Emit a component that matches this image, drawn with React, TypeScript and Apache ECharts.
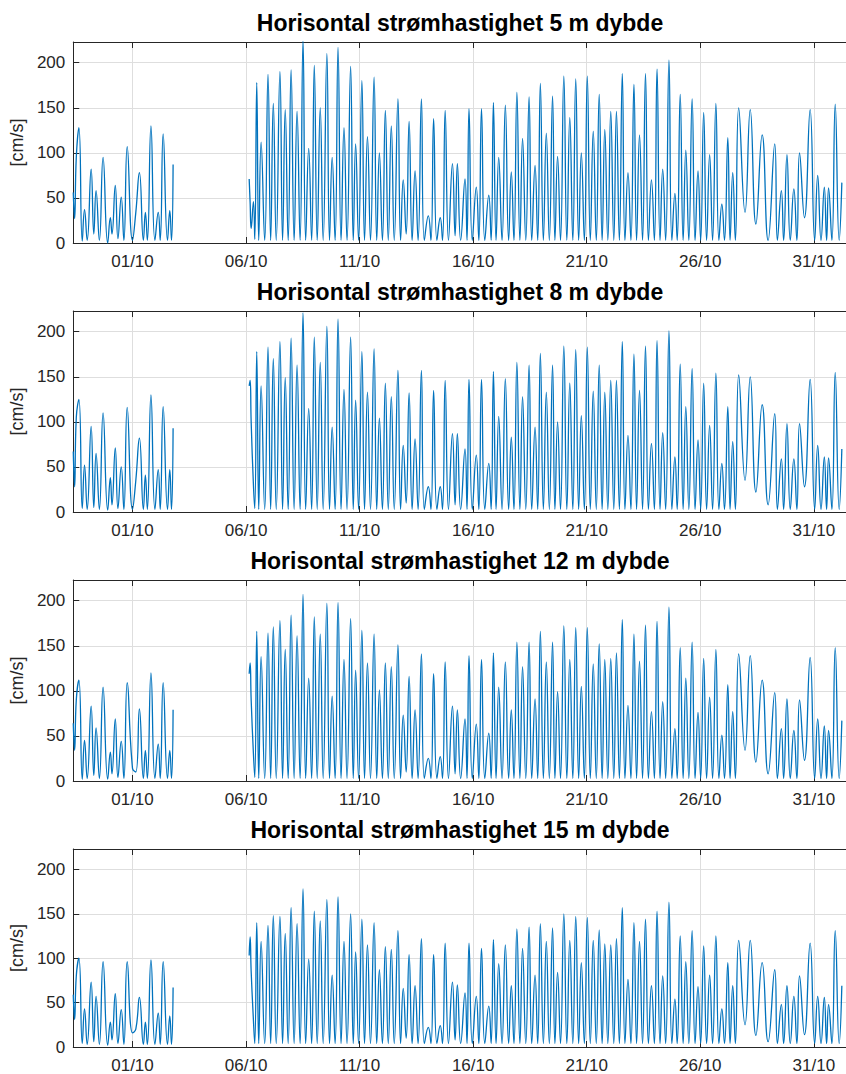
import React, { useEffect, useRef } from "react";
import * as echarts from "echarts";

// Time in hours since 01/10 00:00
const SEG_A_HOURS = [
  -62.6, -61.2, -59.4, -56.6, -53.1, -50.7, -47.9, -43.7, -40.9, -38.5,
  -35.0, -31.1, -26.2, -23.4, -21.7, -18.2, -15.4, -11.9, -9.1, -5.6,
  0.0, 3.5, 7.3, 11.5, 13.6, 15.7, 19.5, 23.7, 27.2, 29.3,
  32.4, 37.0, 39.4, 41.2, 42.9,
];

const SEG_B_HOURS = [
  123.3, 124.3, 125.4, 127.8, 129.2,
  131.3, 133.4, 135.9, 139.7, 143.2, 146.0, 148.8, 151.9,
  155.8, 158.6, 161.4, 164.5, 167.6, 170.8, 173.9, 177.1,
  180.2, 183.0, 186.2, 189.3, 192.1, 195.2, 198.4, 201.5,
  205.4, 208.2, 211.0, 214.1, 217.2, 220.4, 223.5, 226.7,
  230.5, 233.3, 235.8, 238.9, 242.4, 245.2, 248.3, 251.5,
  255.3, 258.1, 260.9, 264.1, 267.2, 270.3, 273.5, 276.6,
  280.5, 283.3, 286.1, 289.2, 292.3, 295.5, 298.6, 301.8,
  305.3, 308.4, 312.6, 315.4, 318.2, 321.7, 325.2, 327.6,
  330.4, 333.9, 338.1, 340.9, 343.3, 346.8, 351.4, 353.5,
  355.6, 359.1, 363.3, 366.0, 368.8, 372.3, 376.5, 379.0,
  381.4, 384.2, 387.0, 390.5, 394.0, 397.5, 400.3, 403.1,
  406.2, 409.4, 412.2, 415.6, 419.1, 421.9, 425.4, 428.2,
  431.0, 434.2, 437.3, 440.5, 443.9, 446.4, 449.2, 452.3,
  455.8, 459.0, 462.1, 465.3, 468.4, 471.5, 474.3, 477.5,
  480.6, 483.8, 486.9, 490.1, 493.2, 496.3, 499.1, 502.3,
  505.4, 508.6, 511.4, 514.5, 517.6, 520.4, 523.6, 526.7,
  529.9, 532.7, 535.8, 539.0, 542.1, 545.2, 548.4, 551.5,
  554.3, 557.5, 560.3, 563.4, 566.9, 570.0, 573.2, 575.6,
  578.8, 581.9, 584.7, 587.9, 591.4, 594.5, 597.6, 600.4,
  603.6, 606.7, 609.9, 613.0, 616.5, 619.7, 622.8, 625.6,
  629.1, 631.5, 634.3, 637.1, 640.6, 647.3, 652.8, 658.8,
  665.4, 671.7, 678.7, 681.5, 685.7, 688.1, 691.6, 695.1,
  698.9, 702.1, 704.9, 710.1, 716.1, 720.9, 724.1, 727.6,
  731.1, 733.5, 735.6, 739.1, 742.6, 746.8, 749.6,
];

// Current speed [cm/s]
const SPEED_5M_A = [56, 27, 95, 128, 2, 37, 3, 82, 10, 58, 3, 95, 0, 28, 10, 64, 5, 51, 3, 107, 3, 34, 78, 3, 34, 3, 130, 3, 34, 3, 121, 3, 36, 3, 87];
const SPEED_5M_B = [
  71, 45, 16, 46, 4,
  178, 3, 112, 3, 187, 3, 155, 3, 190, 3, 148, 3, 192, 3, 146, 3,
  225, 3, 105, 3, 197, 3, 150, 3, 210, 3, 95, 3, 217, 3, 128, 3,
  196, 3, 110, 3, 180, 3, 118, 3, 184, 3, 100, 3, 147, 3, 130, 3,
  160, 3, 70, 10, 135, 3, 80, 3, 160, 3, 30, 3, 138, 3, 28, 3,
  147, 3, 88, 8, 88, 3, 71, 3, 149, 3, 62, 3, 149, 3, 53, 3,
  156, 3, 95, 3, 153, 3, 79, 3, 167, 3, 116, 3, 162, 3, 86, 3,
  177, 3, 122, 3, 163, 3, 96, 3, 185, 3, 139, 3, 182, 3, 100, 3,
  185, 3, 124, 3, 165, 3, 126, 3, 146, 3, 146, 3, 188, 3, 78, 3,
  176, 3, 120, 3, 188, 3, 70, 3, 193, 3, 82, 3, 203, 3, 55, 3,
  165, 3, 103, 3, 160, 3, 80, 3, 145, 3, 98, 3, 155, 3, 43, 3,
  117, 3, 78, 3, 150, 34, 148, 21, 120, 3, 110, 3, 58, 3, 98, 3,
  60, 3, 100, 28, 148, 3, 75, 3, 62, 3, 61, 3, 154, 3, 67,
];

const SPEED_8M_A = [67, 28, 105, 125, 4, 52, 3, 95, 5, 65, 3, 110, 2, 38, 8, 71, 4, 50, 3, 116, 3, 35, 82, 3, 41, 3, 130, 3, 47, 3, 117, 3, 47, 3, 93];
const SPEED_8M_B = [
  140, 146, 100, 30, 4,
  178, 3, 140, 3, 183, 3, 170, 3, 189, 3, 149, 3, 193, 3, 163, 3,
  221, 3, 115, 3, 194, 3, 166, 3, 206, 3, 94, 3, 214, 3, 136, 3,
  194, 3, 124, 3, 178, 3, 133, 3, 181, 3, 104, 3, 143, 3, 128, 3,
  157, 3, 74, 10, 132, 3, 81, 3, 157, 3, 28, 3, 135, 3, 28, 3,
  146, 3, 87, 8, 87, 3, 70, 3, 147, 3, 63, 3, 147, 3, 54, 3,
  156, 3, 106, 3, 148, 3, 83, 3, 166, 3, 128, 3, 163, 3, 94, 3,
  176, 3, 133, 3, 163, 3, 100, 3, 184, 3, 143, 3, 180, 3, 107, 3,
  183, 3, 134, 3, 163, 3, 133, 3, 146, 3, 146, 3, 189, 3, 85, 3,
  175, 3, 135, 3, 184, 3, 76, 3, 190, 3, 88, 3, 201, 3, 61, 3,
  164, 3, 117, 3, 159, 3, 80, 3, 143, 3, 96, 3, 154, 3, 54, 3,
  117, 3, 78, 3, 152, 35, 150, 22, 119, 8, 109, 3, 59, 3, 98, 3,
  59, 3, 98, 28, 147, 3, 74, 3, 61, 3, 60, 3, 155, 3, 70,
];

const SPEED_12M_A = [64, 34, 90, 112, 2, 45, 3, 83, 6, 59, 3, 104, 2, 32, 8, 69, 4, 44, 3, 109, 14, 10, 80, 3, 34, 3, 120, 3, 41, 3, 109, 3, 34, 3, 79];
const SPEED_12M_B = [
  119, 131, 90, 30, 4,
  166, 3, 138, 3, 164, 3, 171, 3, 178, 3, 146, 3, 184, 3, 161, 3,
  207, 3, 114, 3, 182, 3, 163, 3, 197, 3, 94, 3, 198, 3, 135, 3,
  180, 3, 123, 3, 167, 3, 131, 3, 163, 3, 101, 3, 131, 3, 127, 3,
  151, 3, 73, 10, 116, 3, 79, 3, 141, 3, 25, 3, 119, 3, 27, 3,
  132, 3, 83, 8, 79, 3, 69, 3, 139, 3, 63, 3, 135, 3, 53, 3,
  142, 3, 104, 3, 132, 3, 79, 3, 154, 3, 127, 3, 154, 3, 91, 3,
  166, 3, 132, 3, 154, 3, 99, 3, 172, 3, 135, 3, 170, 3, 105, 3,
  170, 3, 130, 3, 152, 3, 135, 3, 136, 3, 142, 3, 179, 3, 84, 3,
  163, 3, 133, 3, 173, 3, 77, 3, 177, 3, 88, 3, 193, 3, 58, 3,
  148, 3, 114, 3, 154, 3, 76, 3, 136, 3, 93, 3, 146, 3, 51, 3,
  107, 3, 77, 3, 141, 34, 139, 21, 112, 8, 98, 3, 58, 3, 91, 3,
  56, 3, 90, 23, 137, 3, 69, 3, 61, 3, 56, 3, 148, 3, 67,
];

const SPEED_15M_A = [59, 31, 80, 100, 4, 43, 3, 73, 6, 57, 3, 96, 2, 28, 8, 60, 4, 42, 3, 96, 16, 20, 56, 3, 28, 3, 98, 3, 38, 3, 96, 3, 35, 3, 67];
const SPEED_15M_B = [
  103, 124, 85, 30, 4,
  140, 4, 119, 4, 137, 4, 148, 4, 147, 4, 128, 4, 157, 4, 139, 4,
  178, 4, 99, 4, 153, 4, 142, 4, 166, 4, 81, 4, 169, 4, 119, 4,
  150, 4, 107, 4, 144, 4, 115, 4, 140, 4, 87, 4, 113, 4, 110, 4,
  131, 4, 66, 10, 104, 4, 69, 4, 122, 4, 22, 4, 104, 4, 24, 4,
  117, 4, 73, 8, 70, 4, 61, 4, 117, 4, 57, 4, 111, 4, 46, 4,
  121, 4, 94, 4, 115, 4, 69, 4, 133, 4, 111, 4, 135, 4, 81, 4,
  139, 4, 119, 4, 134, 4, 84, 4, 150, 4, 120, 4, 147, 4, 95, 4,
  146, 4, 120, 4, 132, 4, 116, 4, 115, 4, 122, 4, 157, 4, 76, 4,
  140, 4, 119, 4, 144, 4, 69, 4, 153, 4, 80, 4, 163, 4, 54, 4,
  125, 4, 96, 4, 131, 4, 68, 4, 114, 4, 81, 4, 125, 4, 43, 4,
  95, 4, 69, 4, 120, 25, 120, 13, 95, 6, 87, 4, 48, 4, 69, 4,
  57, 4, 80, 14, 117, 4, 57, 4, 56, 4, 48, 4, 131, 4, 69,
];

const DEPTHS = ["5", "8", "12", "15"];
const PANELS_A = [SPEED_5M_A, SPEED_8M_A, SPEED_12M_A, SPEED_15M_A];
const PANELS_B = [SPEED_5M_B, SPEED_8M_B, SPEED_12M_B, SPEED_15M_B];
const X_TICK_HOURS = [0, 120, 240, 360, 480, 600, 720];
const X_TICK_LABELS = ["01/10", "06/10", "11/10", "16/10", "21/10", "26/10", "31/10"];
const Y_TICKS = [0, 50, 100, 150, 200];
const X_MIN = -62.6;
const X_MAX = 754;
const Y_MAX = 223;
const GAP_HOUR = 83;

const PANEL_TOPS = [42, 311, 580, 849];
const PANEL_H = 201;
const GRID_LEFT = 71;
const FONT = '"Liberation Sans", Arial, Helvetica, sans-serif';
const AXIS_COLOR = "#262626";
const LINE_COLOR = "#0072BD";

function buildOption() {
  const grid: any[] = [];
  const xAxis: any[] = [];
  const yAxis: any[] = [];
  const series: any[] = [];
  const graphic: any[] = [];

  DEPTHS.forEach((depth, i) => {
    grid.push({ left: GRID_LEFT, right: -4, top: PANEL_TOPS[i], height: PANEL_H });
    const axisLine = { show: true, onZero: false, lineStyle: { color: AXIS_COLOR, width: 1 } };
    const tick = { show: true, inside: true, length: 6, customValues: X_TICK_HOURS, lineStyle: { color: AXIS_COLOR, width: 1 } };
    xAxis.push({
      gridIndex: i,
      type: "value",
      position: "bottom",
      min: X_MIN,
      max: X_MAX,
      axisLine,
      axisTick: tick,
      axisLabel: {
        customValues: X_TICK_HOURS,
        formatter: (v: number) => {
          const k = X_TICK_HOURS.indexOf(v);
          return k >= 0 ? X_TICK_LABELS[k] : "";
        },
        fontSize: 17,
        fontFamily: FONT,
        color: AXIS_COLOR,
        margin: 10,
      },
      splitLine: { show: true, lineStyle: { color: "#dedede", width: 1 } },
    });
    xAxis.push({
      gridIndex: i,
      type: "value",
      position: "top",
      min: X_MIN,
      max: X_MAX,
      axisLine,
      axisTick: tick,
      axisLabel: { show: false },
      splitLine: { show: false },
    });
    yAxis.push({
      gridIndex: i,
      type: "value",
      min: 0,
      max: Y_MAX,
      axisLine,
      axisTick: { show: true, inside: true, length: 6, customValues: Y_TICKS, lineStyle: { color: AXIS_COLOR, width: 1 } },
      axisLabel: {
        customValues: Y_TICKS,
        fontSize: 17,
        fontFamily: FONT,
        color: AXIS_COLOR,
        margin: 8,
      },
      splitLine: { show: true, lineStyle: { color: "#dedede", width: 1 } },
      name: "[cm/s]",
      nameLocation: "middle",
      nameRotate: 90,
      nameGap: 41,
      nameTextStyle: { fontSize: 18, fontFamily: FONT, color: AXIS_COLOR },
    });

    const data: any[] = [];
    SEG_A_HOURS.forEach((h, k) => data.push([h, PANELS_A[i][k]]));
    data.push([GAP_HOUR, null]);
    SEG_B_HOURS.forEach((h, k) => data.push([h, PANELS_B[i][k]]));

    series.push({
      type: "line",
      xAxisIndex: 2 * i,
      yAxisIndex: i,
      data,
      showSymbol: false,
      symbol: "none",
      smooth: 0.5,
      connectNulls: false,
      clip: true,
      lineStyle: { color: LINE_COLOR, width: 1.3 },
    });

    graphic.push({
      type: "text",
      style: {
        text: `Horisontal strømhastighet ${depth} m dybde`,
        x: 460,
        y: PANEL_TOPS[i] - 19,
        textAlign: "center",
        textVerticalAlign: "middle",
        font: `bold 23px ${FONT}`,
        fill: "#000",
      },
    });
  });

  return { animation: false, backgroundColor: "#fff", grid, xAxis, yAxis, series, graphic };
}

export default function App() {
  const ref = useRef<HTMLDivElement>(null);
  useEffect(() => {
    if (!ref.current) return;
    const chart = echarts.init(ref.current, null, { renderer: "svg" });
    chart.setOption(buildOption());
    return () => chart.dispose();
  }, []);
  return (
    <div
      ref={ref}
      style={{ position: "fixed", left: 0, top: 0, width: 846, height: 1074, background: "#fff" }}
    />
  );
}
